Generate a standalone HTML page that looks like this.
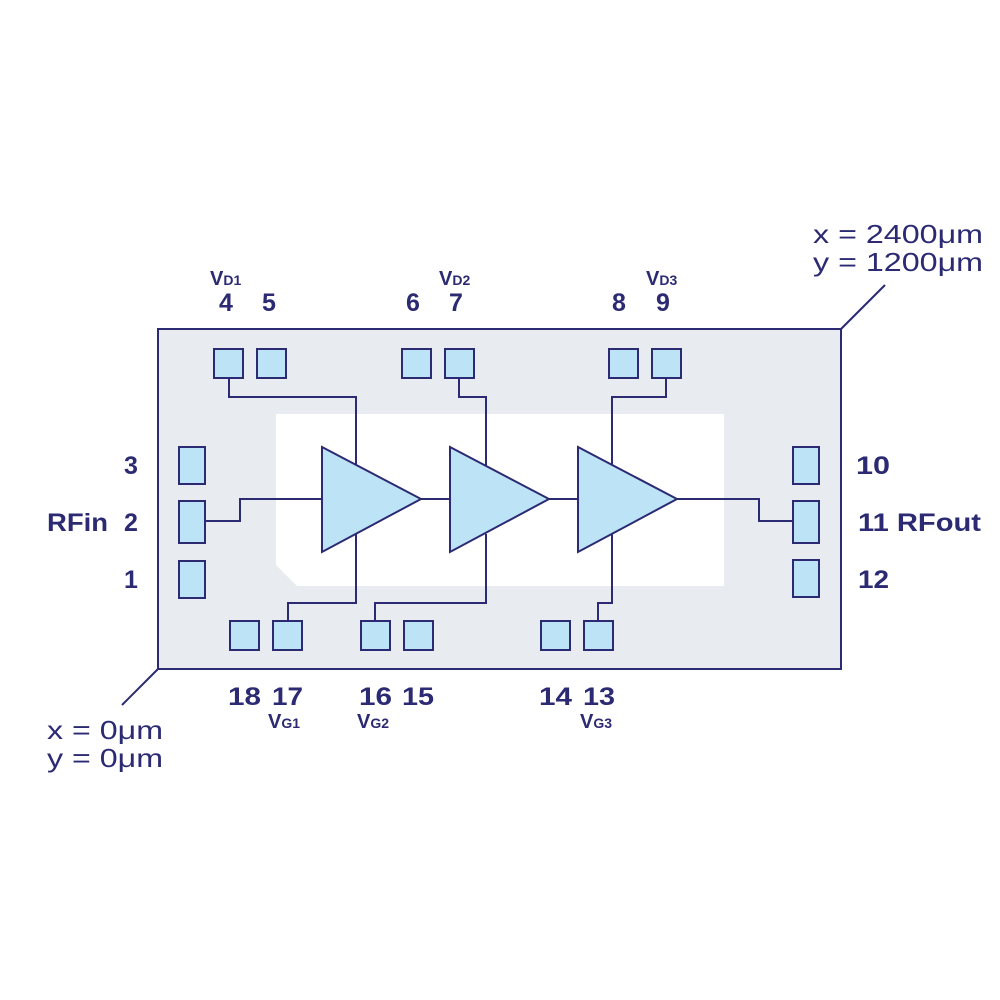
<!DOCTYPE html>
<html><head><meta charset="utf-8"><style>
html,body{margin:0;padding:0;background:#fff}
svg{display:block}
text{font-family:"Liberation Sans",sans-serif;fill:#2b2a72}
.n{font-size:25px;font-weight:bold}
.c{font-size:26px}
.v{font-size:20px;font-weight:bold}
.s{font-size:14px;font-weight:bold}
</style></head><body>
<svg width="1000" height="1000" viewBox="0 0 1000 1000" xmlns="http://www.w3.org/2000/svg">
<g stroke="#2b2a72" stroke-width="2" fill="none">
<rect x="158" y="329" width="683" height="340" fill="#e8ebef"/>
<polygon points="276,414 724,414 724,586 297,586 276,565" fill="#fff" stroke="none"/>
<line x1="841" y1="329" x2="885" y2="285"/>
<line x1="158" y1="669" x2="122" y2="705"/>
<polyline points="229,378 229,397 356,397 356,466"/>
<polyline points="459,378 459,397 486,397 486,466"/>
<polyline points="666,378 666,397 612,397 612,466"/>
<polyline points="356,534 356,603 288,603 288,621"/>
<polyline points="486,534 486,603 375,603 375,621"/>
<polyline points="612,534 612,603 598,603 598,621"/>
<polyline points="205,521 240,521 240,499 322,499"/>
<line x1="421" y1="499" x2="450" y2="499"/>
<line x1="549" y1="499" x2="578" y2="499"/>
<polyline points="677,499 759,499 759,521 793,521"/>
<g fill="#bde3f7">
<polygon points="322,447 421,499 322,552"/>
<polygon points="450,447 549,499 450,552"/>
<polygon points="578,447 677,499 578,552"/>
<rect x="214" y="349" width="29" height="29"/>
<rect x="257" y="349" width="29" height="29"/>
<rect x="402" y="349" width="29" height="29"/>
<rect x="445" y="349" width="29" height="29"/>
<rect x="609" y="349" width="29" height="29"/>
<rect x="652" y="349" width="29" height="29"/>
<rect x="230" y="621" width="29" height="29"/>
<rect x="273" y="621" width="29" height="29"/>
<rect x="361" y="621" width="29" height="29"/>
<rect x="404" y="621" width="29" height="29"/>
<rect x="541" y="621" width="29" height="29"/>
<rect x="584" y="621" width="29" height="29"/>
<rect x="179" y="447" width="26" height="37"/>
<rect x="179" y="501" width="26" height="42"/>
<rect x="179" y="561" width="26" height="37"/>
<rect x="793" y="447" width="26" height="37"/>
<rect x="793" y="501" width="26" height="42"/>
<rect x="793" y="560" width="26" height="37"/>
</g>
</g>
<text class="n" x="219" y="311">4</text>
<text class="n" x="262" y="311">5</text>
<text class="n" x="406" y="311">6</text>
<text class="n" x="449" y="311">7</text>
<text class="n" x="612" y="311">8</text>
<text class="n" x="656" y="311">9</text>
<text x="210" y="285"><tspan class="v">V</tspan><tspan class="s">D1</tspan></text>
<text x="439" y="285"><tspan class="v">V</tspan><tspan class="s">D2</tspan></text>
<text x="646" y="285"><tspan class="v">V</tspan><tspan class="s">D3</tspan></text>
<text class="n" x="228" y="705" textLength="33" lengthAdjust="spacingAndGlyphs">18</text>
<text class="n" x="272" y="705" textLength="31" lengthAdjust="spacingAndGlyphs">17</text>
<text class="n" x="359" y="705" textLength="33" lengthAdjust="spacingAndGlyphs">16</text>
<text class="n" x="402" y="705" textLength="32" lengthAdjust="spacingAndGlyphs">15</text>
<text class="n" x="539" y="705" textLength="33" lengthAdjust="spacingAndGlyphs">14</text>
<text class="n" x="583" y="705" textLength="32" lengthAdjust="spacingAndGlyphs">13</text>
<text x="268" y="728"><tspan class="v">V</tspan><tspan class="s">G1</tspan></text>
<text x="357" y="728"><tspan class="v">V</tspan><tspan class="s">G2</tspan></text>
<text x="580" y="728"><tspan class="v">V</tspan><tspan class="s">G3</tspan></text>
<text class="n" x="124" y="474">3</text>
<text class="n" x="47" y="531" textLength="61" lengthAdjust="spacingAndGlyphs">RFin</text>
<text class="n" x="124" y="531">2</text>
<text class="n" x="124" y="588">1</text>
<text class="n" x="856" y="474" textLength="34" lengthAdjust="spacingAndGlyphs">10</text>
<text class="n" x="858" y="531" textLength="123" lengthAdjust="spacingAndGlyphs">11 RFout</text>
<text class="n" x="858" y="588" textLength="31" lengthAdjust="spacingAndGlyphs">12</text>
<text class="c" x="813" y="243" textLength="170" lengthAdjust="spacingAndGlyphs">x = 2400μm</text>
<text class="c" x="813" y="271" textLength="170" lengthAdjust="spacingAndGlyphs">y = 1200μm</text>
<text class="c" x="47" y="739" textLength="116" lengthAdjust="spacingAndGlyphs">x = 0μm</text>
<text class="c" x="47" y="767" textLength="116" lengthAdjust="spacingAndGlyphs">y = 0μm</text>
</svg>
</body></html>
